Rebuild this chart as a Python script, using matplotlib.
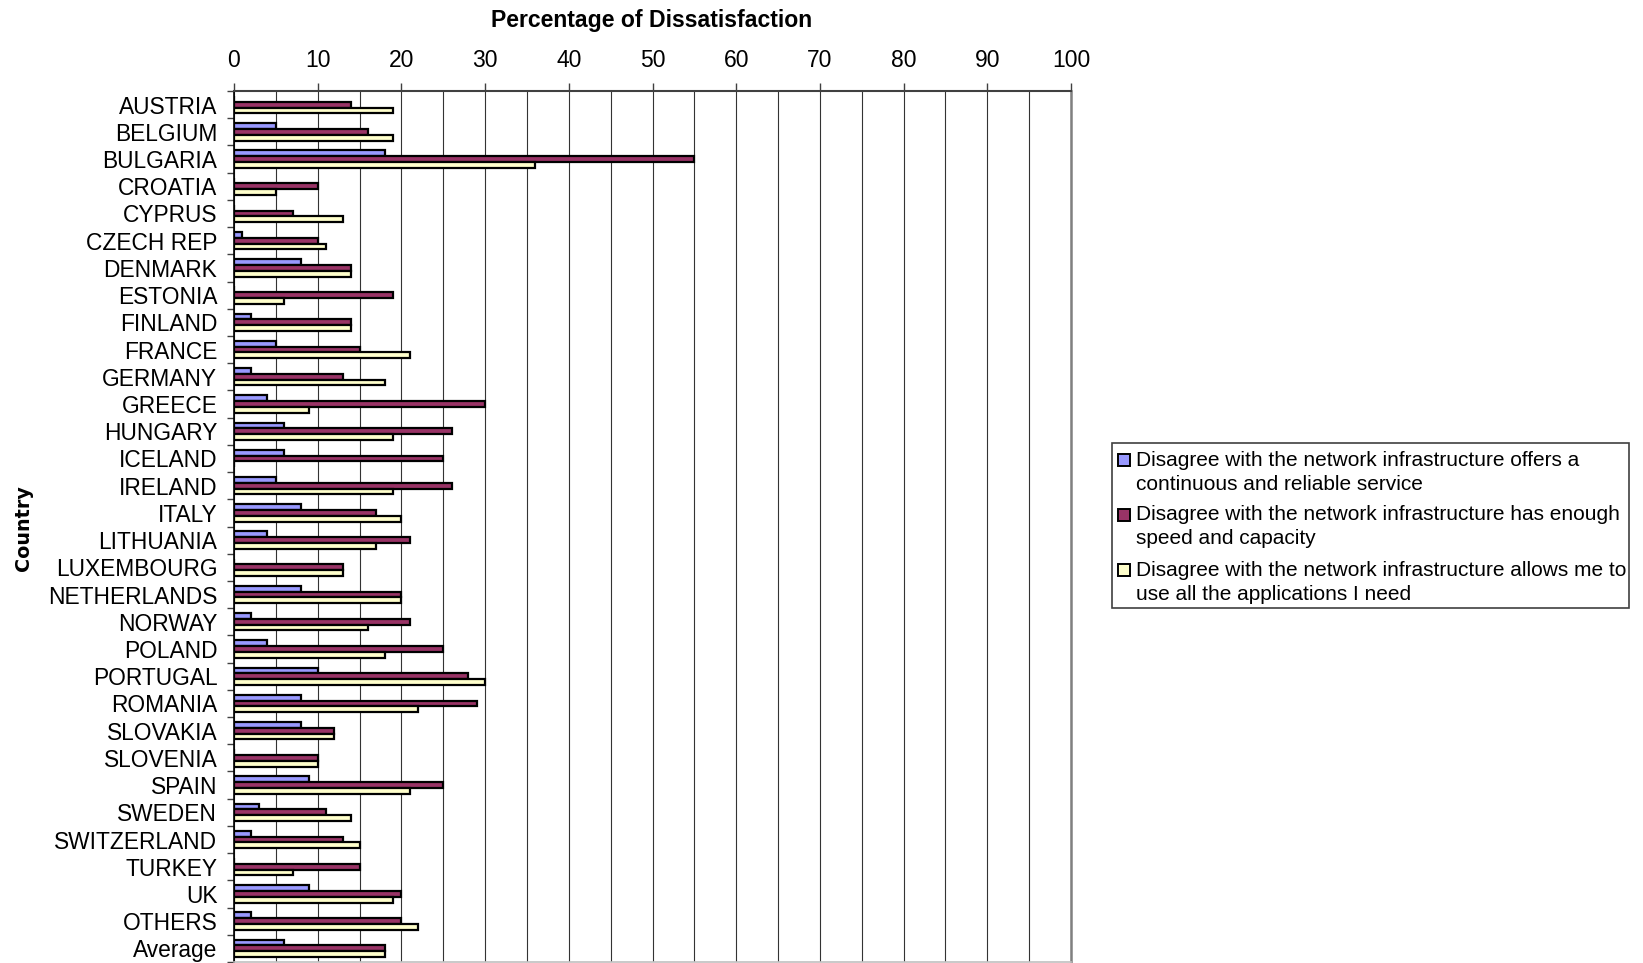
import numpy as np
import matplotlib
matplotlib.use('Agg')
import matplotlib.pyplot as plt
from matplotlib.patches import Rectangle
from matplotlib.ticker import MultipleLocator

countries = ['AUSTRIA', 'BELGIUM', 'BULGARIA', 'CROATIA', 'CYPRUS', 'CZECH REP',
             'DENMARK', 'ESTONIA', 'FINLAND', 'FRANCE', 'GERMANY', 'GREECE',
             'HUNGARY', 'ICELAND', 'IRELAND', 'ITALY', 'LITHUANIA', 'LUXEMBOURG',
             'NETHERLANDS', 'NORWAY', 'POLAND', 'PORTUGAL', 'ROMANIA', 'SLOVAKIA',
             'SLOVENIA', 'SPAIN', 'SWEDEN', 'SWITZERLAND', 'TURKEY', 'UK',
             'OTHERS', 'Average']

# % disagreeing: reliable service / enough speed / all applications
reliable = [0, 5, 18, 0, 0, 1, 8, 0, 2, 5, 2, 4, 6, 6, 5, 8,
            4, 0, 8, 2, 4, 10, 8, 8, 0, 9, 3, 2, 0, 9, 2, 6]
speed = [14, 16, 55, 10, 7, 10, 14, 19, 14, 15, 13, 30, 26, 25, 26, 17,
         21, 13, 20, 21, 25, 28, 29, 12, 10, 25, 11, 13, 15, 20, 20, 18]
apps = [19, 19, 36, 5, 13, 11, 14, 6, 14, 21, 18, 9, 19, 0, 19, 20,
        17, 13, 20, 16, 18, 30, 22, 12, 10, 21, 14, 15, 7, 19, 22, 18]

labels = ['Disagree with the network infrastructure offers a\ncontinuous and reliable service',
          'Disagree with the network infrastructure has enough\nspeed and capacity',
          'Disagree with the network infrastructure allows me to\nuse all the applications I need']
colors = ['#9999FF', '#993366', '#FFFFCC']

W, H = 1643, 963
plt.rcParams['font.family'] = 'Liberation Sans'

fig = plt.figure(figsize=(W / 100, H / 100), dpi=100)

def fx(px):
    return px / W

def fy(py):
    return 1 - py / H

# plot area in pixels: x 234..1071, y 91..962
ax = fig.add_axes([fx(234), fy(962), fx(1071) - fx(234), fy(91) - fy(962)])

y = np.arange(len(countries))
h = 0.213
for k, vals in enumerate([reliable, speed, apps]):
    ax.barh(y + (k - 1) * h, vals, height=h, color=colors[k],
            edgecolor='black', linewidth=1.6, zorder=3)

ax.set_xlim(0, 100)
ax.set_ylim(len(countries) - 0.5, -0.5)

# x axis on top, grid every 5
ax.xaxis.tick_top()
ax.xaxis.set_major_locator(MultipleLocator(10))
ax.xaxis.set_minor_locator(MultipleLocator(5))
ax.tick_params(axis='x', which='major', direction='out', length=5.8, width=1,
               color='#404040', labelsize=16.5, pad=8.2)
ax.tick_params(axis='x', which='minor', length=0)
ax.grid(True, axis='x', which='both', color='#333333', linewidth=0.8)
ax.set_axisbelow(True)

# country labels, boundary ticks on the left
ax.set_yticks(y)
ax.set_yticklabels(countries)
ax.set_yticks(np.arange(len(countries) + 1) - 0.5, minor=True)
ax.tick_params(axis='y', which='major', length=0, labelsize=16.4, pad=12)
ax.tick_params(axis='y', which='minor', direction='out', length=5, width=1,
               color='#404040')

ax.spines['top'].set_color('#404040')
ax.spines['top'].set_linewidth(1.5)
ax.spines['left'].set_color('black')
ax.spines['left'].set_linewidth(1.2)
ax.spines['right'].set_color('#808080')
ax.spines['right'].set_linewidth(1.8)
ax.spines['bottom'].set_color('#C0C0C0')
ax.spines['bottom'].set_linewidth(1.2)

fig.text(fx(652), fy(20), 'Percentage of Dissatisfaction', ha='center',
         va='center', fontsize=16.6, fontweight='bold')
fig.text(fx(23), fy(528), 'Country', ha='center', va='center', rotation=90,
         fontsize=13.8, fontweight='bold', family='DejaVu Sans')

# legend box
fig.patches.append(Rectangle((fx(1112), fy(608)), fx(1629) - fx(1112),
                             fy(443) - fy(608), transform=fig.transFigure,
                             facecolor='white', edgecolor='#404040',
                             linewidth=1.2))
for k in range(3):
    yc = 460 + k * 55
    fig.patches.append(Rectangle((fx(1118), fy(yc + 6)), fx(12), 12 / H,
                                 transform=fig.transFigure,
                                 facecolor=colors[k], edgecolor='black',
                                 linewidth=1.4))
    for j, line in enumerate(labels[k].split('\n')):
        fig.text(fx(1136), fy(yc + j * 24), line, ha='left', va='center',
                 fontsize=15)

fig.savefig('out.png', dpi=100)
